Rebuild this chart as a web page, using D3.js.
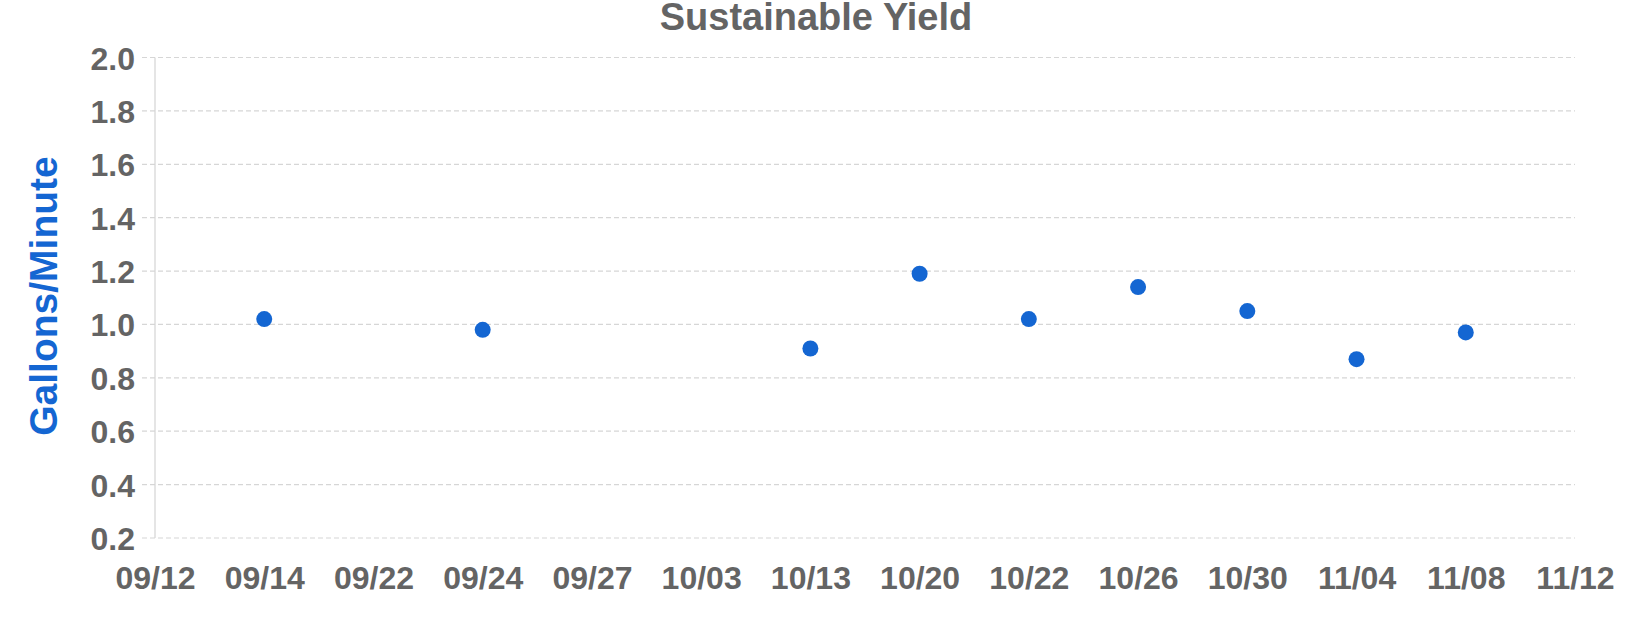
<!DOCTYPE html>
<html>
<head>
<meta charset="utf-8">
<script src="https://cdn.jsdelivr.net/npm/d3@7"></script>
<style>
  html, body { margin: 0; padding: 0; background: #fff; }
  svg { display: block; font-family: "Liberation Sans", Arial, Helvetica, sans-serif; }
</style>
</head>
<body>
<svg id="chart" width="1632" height="640"></svg>
<script>
const categories = ["09/12","09/14","09/22","09/24","09/27","10/03","10/13","10/20","10/22","10/26","10/30","11/04","11/08","11/12"];
const yieldValues = [null, 1.02, null, 0.98, null, null, 0.91, 1.19, 1.02, 1.14, 1.05, 0.87, 0.97, null];
const yTicks = [0.2, 0.4, 0.6, 0.8, 1.0, 1.2, 1.4, 1.6, 1.8, 2.0];
const chartTitle = "Sustainable Yield";
const yTitle = "Gallons/Minute";

const svg = d3.select("#chart");
const plotLeft = 155, plotRight = 1575, plotTop = 57.5, plotBottom = 538;

const x = d3.scalePoint().domain(categories).range([plotLeft, plotRight]);
const y = d3.scaleLinear().domain([0.2, 2.0]).range([plotBottom, plotTop]);

// gridlines
svg.append("g").selectAll("line").data(yTicks).join("line")
  .attr("x1", plotLeft - 13).attr("x2", plotRight)
  .attr("y1", d => y(d)).attr("y2", d => y(d))
  .attr("stroke", "#d6d6d6").attr("stroke-width", 1.2)
  .attr("stroke-dasharray", "5,3");

// y axis line
svg.append("line")
  .attr("x1", plotLeft).attr("x2", plotLeft)
  .attr("y1", plotTop).attr("y2", plotBottom)
  .attr("stroke", "#d4d4d4").attr("stroke-width", 1.2);

// y tick labels
const yAxis = d3.axisLeft(y).tickValues(yTicks).tickFormat(d3.format(".1f")).tickSize(0).tickPadding(20);
const yg = svg.append("g").attr("transform", `translate(${plotLeft},0)`).call(yAxis);
yg.select(".domain").remove();
yg.selectAll("text")
  .attr("fill", "#646464").attr("font-size", 32).attr("font-weight", "bold")
  .attr("font-family", "'Liberation Sans', Arial, Helvetica, sans-serif")
  .attr("dy", "0.36em");

// x tick labels
const xAxis = d3.axisBottom(x).tickSize(0).tickPadding(0);
const xg = svg.append("g").attr("transform", `translate(0,${plotBottom})`).call(xAxis);
xg.select(".domain").remove();
xg.selectAll("text")
  .attr("fill", "#646464").attr("font-size", 32).attr("font-weight", "bold")
  .attr("font-family", "'Liberation Sans', Arial, Helvetica, sans-serif")
  .attr("dy", 0).attr("y", 51);

// points
const pts = categories.map((c, i) => ({c, v: yieldValues[i]})).filter(d => d.v !== null);
svg.append("g").selectAll("circle").data(pts).join("circle")
  .attr("cx", d => x(d.c)).attr("cy", d => y(d.v))
  .attr("r", 8).attr("fill", "#1466d2");

// title
svg.append("text")
  .attr("x", 816).attr("y", 30)
  .attr("text-anchor", "middle")
  .attr("font-size", 38).attr("font-weight", "bold")
  .attr("fill", "#646464")
  .text(chartTitle);

// y title
svg.append("text")
  .attr("transform", `translate(57,296) rotate(-90)`)
  .attr("text-anchor", "middle")
  .attr("font-size", 39).attr("font-weight", "bold")
  .attr("fill", "#1466d2")
  .text(yTitle);
</script>
</body>
</html>
